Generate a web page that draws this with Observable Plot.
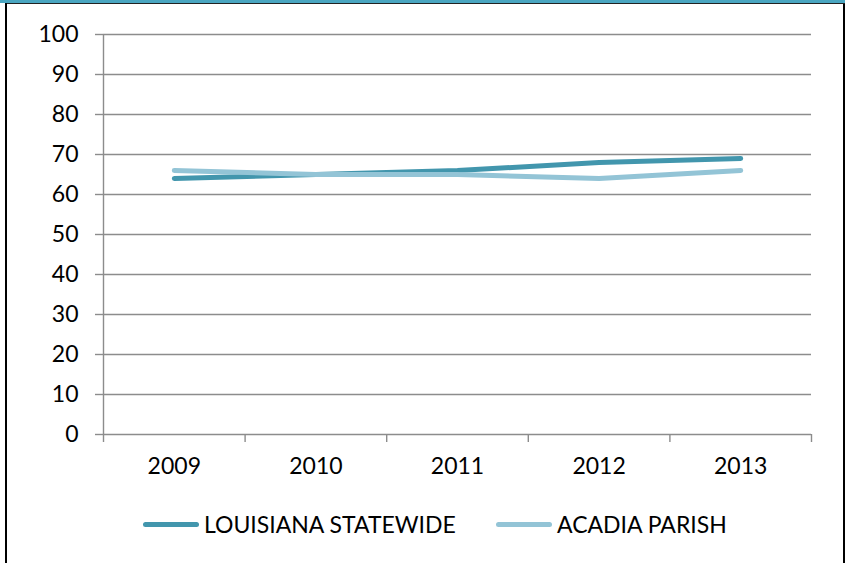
<!DOCTYPE html>
<html>
<head>
<meta charset="utf-8">
<script src="https://cdn.jsdelivr.net/npm/d3@7"></script>
<script src="https://cdn.jsdelivr.net/npm/@observablehq/plot@0.6"></script>
<style>
  html, body { margin: 0; padding: 0; background: #fff; }
  #wrap { position: relative; width: 845px; height: 563px; overflow: hidden; background: #fff; font-family: Lato, "Open Sans", sans-serif; }
  #chart { position: absolute; left: 0; top: 0; }
  .bar-top { position: absolute; left: 0; top: 0; width: 845px; height: 3px; background: #4aa6c1; }
  .bar-top-line { position: absolute; left: 5px; top: 3px; width: 840px; height: 1px; background: #222; }
  .border-left { position: absolute; left: 5px; top: 3px; width: 2px; height: 560px; background: #000; }
  .border-right { position: absolute; left: 843px; top: 4px; width: 2px; height: 559px; background: #000; }
  #legend { position: absolute; top: 509px; left: 0; width: 845px; height: 30px; font-size: 23px; color: #000; }
  .item { position: absolute; top: 0; display: flex; align-items: center; height: 30px; white-space: nowrap; }
  .swatch { width: 56px; height: 5px; border-radius: 3px; margin-right: 5px; }
</style>
</head>
<body>
<div id="wrap">
  <div class="bar-top"></div>
  <div class="bar-top-line"></div>
  <div class="border-left"></div>
  <div class="border-right"></div>
  <div id="chart"></div>
  <div id="legend"></div>
</div>
<script>
const years = [2009, 2010, 2011, 2012, 2013];
const louisiana = [64, 65, 66, 68, 69];
const acadia = [66, 65, 65, 64, 66];
const yTicks = [0, 10, 20, 30, 40, 50, 60, 70, 80, 90, 100];
const seriesNames = ["LOUISIANA STATEWIDE", "ACADIA PARISH"];
const seriesColors = ["#4296ad", "#93c4d6"];

const seriesValues = [louisiana, acadia];
const data = [];
seriesNames.forEach((name, s) => {
  years.forEach((yr, i) => data.push({year: yr, value: seriesValues[s][i], series: name}));
});
const boundaries = years.map(y => y - 0.5).concat([years[years.length - 1] + 0.5]);
const grid = "#8c8c8c";

const chart = Plot.plot({
  width: 845,
  height: 490,
  marginLeft: 103,
  marginRight: 34,
  marginTop: 34,
  marginBottom: 56,
  style: {fontFamily: "Lato, 'Open Sans', sans-serif", fontSize: "23px", color: "#000", background: "transparent"},
  x: {type: "linear", domain: [boundaries[0], boundaries[boundaries.length - 1]]},
  y: {domain: [0, 100]},
  color: {domain: seriesNames, range: seriesColors},
  marks: [
    Plot.ruleY(yTicks, {stroke: grid, strokeWidth: 1.4}),
    Plot.ruleX([boundaries[0]], {y1: 0, y2: 100, stroke: grid, strokeWidth: 1.4}),
    Plot.axisY({ticks: yTicks, tickSize: 8, tickPadding: 17, stroke: grid, strokeWidth: 1.4, strokeOpacity: 1, tickFormat: d => String(d), label: null}),
    Plot.axisX({ticks: boundaries, tickSize: 8, stroke: grid, strokeWidth: 1.4, strokeOpacity: 1, tickFormat: () => "", label: null}),
    Plot.axisX({ticks: years, tickSize: 0, tickPadding: 23, tickFormat: d => String(d), label: null}),
    Plot.line(data, {x: "year", y: "value", z: "series", stroke: "series", strokeWidth: 5, strokeLinecap: "round", strokeLinejoin: "round"})
  ]
});
document.getElementById("chart").appendChild(chart);

const legend = document.getElementById("legend");
const legendLeft = [143, 496];
seriesNames.forEach((name, i) => {
  const item = document.createElement("div");
  item.className = "item";
  item.style.left = legendLeft[i] + "px";
  const sw = document.createElement("div");
  sw.className = "swatch";
  sw.style.background = seriesColors[i];
  const t = document.createElement("span");
  t.textContent = name;
  item.appendChild(sw);
  item.appendChild(t);
  legend.appendChild(item);
});
</script>
</body>
</html>
